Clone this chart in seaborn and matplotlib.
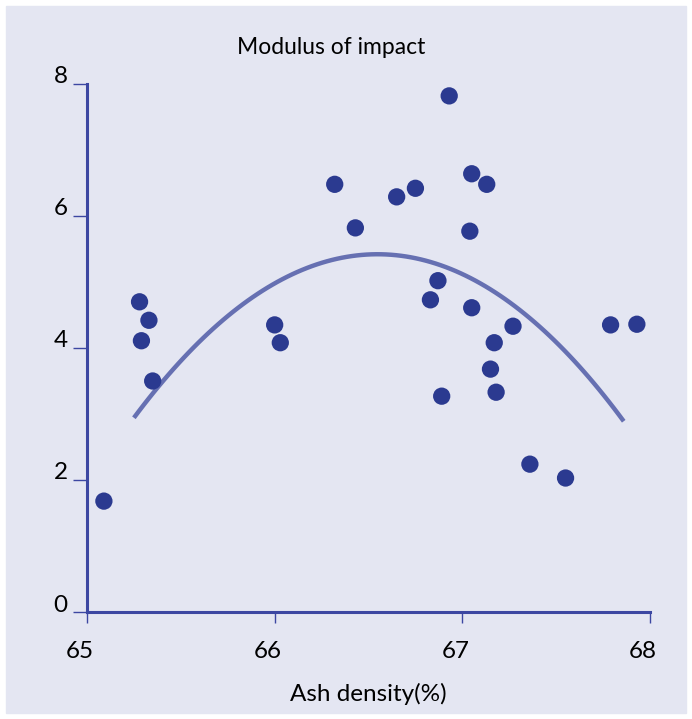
import matplotlib
matplotlib.use("Agg")
import matplotlib.pyplot as plt
import matplotlib.transforms as mtransforms
from matplotlib.patches import Rectangle
import seaborn as sns
import pandas as pd

# Datos
ash_density = [65.09, 65.28, 65.33, 65.29, 65.35, 66.00, 66.03, 66.32, 66.43,
               66.65, 66.75, 66.93, 67.05, 67.13, 67.04, 66.87, 66.83, 67.05,
               67.17, 67.27, 67.15, 67.18, 66.89, 67.36, 67.55, 67.79, 67.93]
impact = [1.68, 4.70, 4.42, 4.11, 3.50, 4.35, 4.08, 6.48, 5.82,
          6.29, 6.42, 7.82, 6.64, 6.48, 5.77, 5.02, 4.73, 4.61,
          4.08, 4.33, 3.68, 3.33, 3.27, 2.24, 2.03, 4.35, 4.36]

# Curva de ajuste
fit_x = [65.25, 65.39, 65.53, 65.71, 65.89, 66.07, 66.24, 66.42, 66.58,
         66.78, 66.92, 67.10, 67.27, 67.54, 67.72, 67.86]
fit_y = [2.86, 3.47, 3.97, 4.42, 4.80, 5.08, 5.26, 5.36, 5.39,
         5.33, 5.23, 4.98, 4.68, 3.97, 3.41, 2.88]

x_ticks = [65, 66, 67, 68]
y_ticks = [0, 2, 4, 6, 8]

BG = "#e4e6f2"
DOT = "#2b3a90"
CURVE = "#6670b2"
AXIS = "#3c47a2"

sns.set_style("ticks")
plt.rcParams["font.family"] = ["Lato", "DejaVu Sans"]
plt.rcParams["text.color"] = "black"

df = pd.DataFrame({"x": ash_density, "y": impact})
fit = pd.DataFrame({"x": fit_x, "y": fit_y})

fig = plt.figure(figsize=(6.92, 7.19), dpi=100)
fig.patch.set_facecolor("white")
fig.patches.append(Rectangle((6 / 692, 6 / 719), 680 / 692, 707 / 719,
                             transform=fig.transFigure, color=BG, zorder=-5))
ax = fig.add_axes([87 / 692, 107 / 719, 563 / 692, 528 / 719])
ax.set_facecolor(BG)

# curva suave: ajuste cuadratico de seaborn sobre los puntos leidos
sns.regplot(data=fit, x="x", y="y", ax=ax, order=2, ci=None, scatter=False,
            truncate=True, line_kws={"color": CURVE, "linewidth": 3.2,
                                     "solid_capstyle": "butt", "zorder": 2})
sns.scatterplot(data=df, x="x", y="y", ax=ax, color=DOT, s=155,
                edgecolor="none", zorder=3)

ax.set_xlim(65, 68)
ax.set_ylim(0, 8)
ax.set_xticks(x_ticks)
ax.set_yticks(y_ticks)
ax.set_xticklabels([str(v) for v in x_ticks], fontsize=17.5)
ax.set_yticklabels([str(v) for v in y_ticks], fontsize=17.5)

for side in ["top", "right"]:
    ax.spines[side].set_visible(False)
for side in ["left", "bottom"]:
    ax.spines[side].set_color(AXIS)
    ax.spines[side].set_linewidth(2.2)
ax.tick_params(axis="both", color=AXIS, width=1.0, labelcolor="black")
ax.tick_params(axis="y", length=10, pad=4)
ax.tick_params(axis="x", length=8, pad=13)

# desplazar etiquetas como en el original
for lab in ax.get_yticklabels():
    lab.set_transform(lab.get_transform() +
                      mtransforms.ScaledTranslation(0, 0.09, fig.dpi_scale_trans))
for lab in ax.get_xticklabels():
    lab.set_transform(lab.get_transform() +
                      mtransforms.ScaledTranslation(-0.07, 0, fig.dpi_scale_trans))

ax.set_xlabel("Ash density(%)", fontsize=17.5, labelpad=15, color="black")
ax.set_ylabel("")
fig.text(331 / 692, 1 - 47 / 719, "Modulus of impact", ha="center", va="center",
         fontsize=16.5, color="black")

fig.savefig("out.png", dpi=100)
